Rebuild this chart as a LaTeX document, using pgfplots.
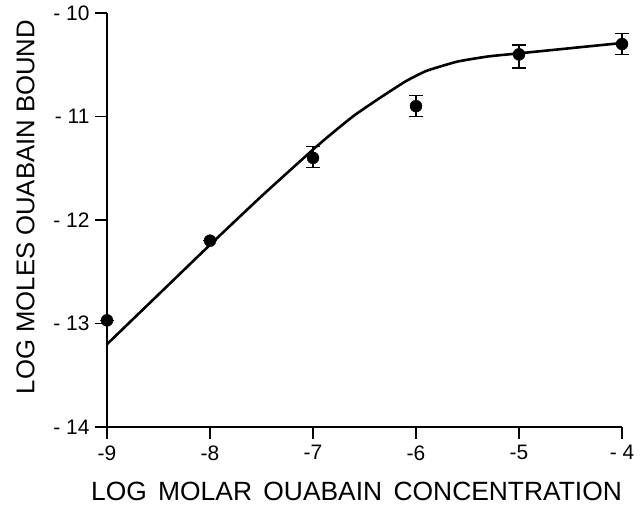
\documentclass[border=0pt]{standalone}
\usepackage{pgfplots}
\pgfplotsset{compat=1.18}
\usepackage{fontspec}
\setmainfont{Liberation Sans}
\newcommand{\gap}{\ \hspace{4bp}}
\begin{document}
\begin{tikzpicture}[x=1bp,y=1bp]
\begin{axis}[
  at={(107bp,80bp)}, anchor=south west,
  scale only axis,
  width=515bp, height=414bp,
  xmin=-9, xmax=-4, ymin=-14, ymax=-10,
  axis x line=bottom, axis y line=left,
  axis line style={-, line width=1.2pt},
  tick style={line width=1.2pt, black},
  tick align=outside,
  major tick length=12bp,
  xtick={-9,-8,-7,-6,-5,-4},
  xticklabels={-9,-8,-7,-6,-5,- 4},
  ytick={-14,-13,-12,-11,-10},
  yticklabels={- 14,- 13,- 12,- 11,- 10},
  ticklabel style={font=\fontsize{21}{24}\selectfont},
  xticklabel style={yshift=-3bp},
  yticklabel style={xshift=-2bp},
  xlabel={LOG\gap MOLAR\gap OUABAIN\gap CONCENTRATION},
  ylabel={LOG\ MOLES\ OUABAIN\ BOUND},
  xlabel style={font=\fontsize{26.5}{30}\selectfont, yshift=-15bp, xshift=-8bp},
  ylabel style={font=\fontsize{25.8}{30}\selectfont, yshift=12bp, xshift=13bp},
  clip=false,
]
\addplot[black, line width=2.6pt, smooth, tension=0.3] coordinates {
(-9,-13.2) (-8.5,-12.72) (-8,-12.24) (-7.5,-11.77) (-7,-11.32)
(-6.8,-11.15) (-6.6,-10.99) (-6.35,-10.82) (-6.1,-10.66) (-5.9,-10.56)
(-5.6,-10.47) (-5.3,-10.42) (-5,-10.39) (-4.5,-10.34) (-4,-10.29)
};
\addplot[black, only marks, mark=*, mark size=6bp,
  error bars/.cd, y dir=both, y explicit,
  error bar style={line width=1.4pt},
  error mark options={rotate=90, mark size=7bp, line width=1.4pt}]
coordinates {
(-9,-12.97) +- (0,0)
(-8,-12.2) +- (0,0)
(-7,-11.4) += (0,0.11) -= (0,0.09)
(-6,-10.9) +- (0,0.1)
(-5,-10.4) += (0,0.09) -= (0,0.13)
(-4,-10.3) +- (0,0.1)
};
\end{axis}
\pgfresetboundingbox
\path (0,0) rectangle (640,507);
\end{tikzpicture}
\end{document}
